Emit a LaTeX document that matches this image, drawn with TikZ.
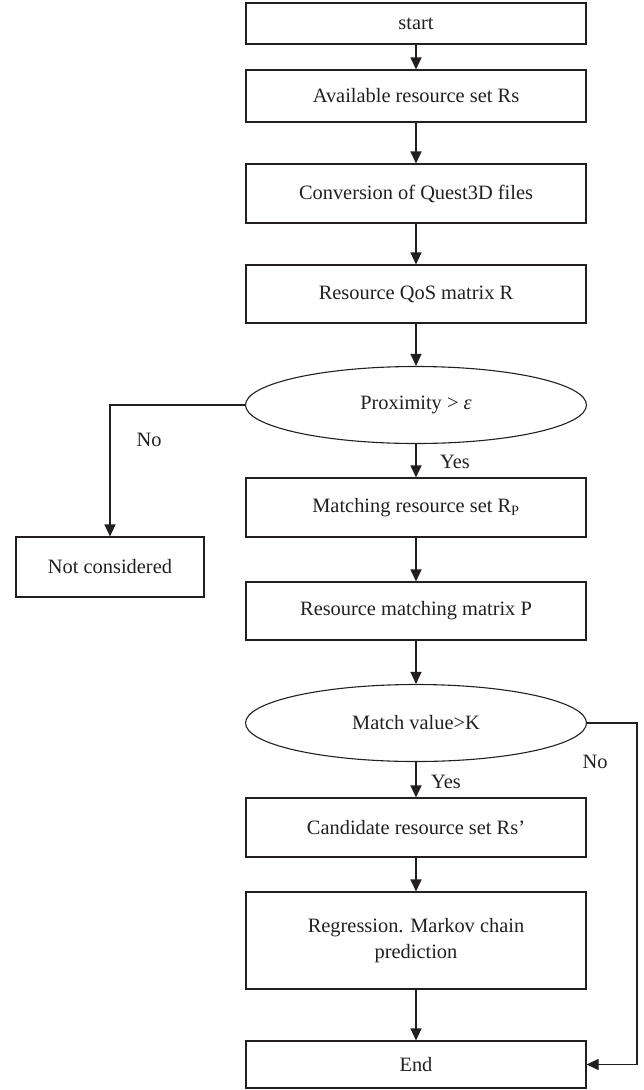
\documentclass[tikz,border=0pt]{standalone}
\usepackage{fontspec}
\setmainfont{Liberation Serif}
\usetikzlibrary{shapes.geometric,arrows.meta}
\definecolor{ink}{HTML}{231F20}
\begin{document}
\begin{tikzpicture}[x=1pt,y=-1pt,
  every node/.style={text=ink,font=\fontsize{20.4}{26}\selectfont},
  box/.style={draw=ink,line width=1.1pt,rectangle,minimum width=340pt,inner sep=0pt,align=center},
  oval/.style={draw=ink,line width=1.1pt,ellipse,minimum width=341pt,minimum height=77pt,inner sep=0pt},
  arr/.style={draw=ink,line width=1.1pt,-{Triangle[length=12pt,width=11pt]}},
  lbl/.style={inner sep=0pt}]
\useasboundingbox (0,0) rectangle (644,1090);
\node[box,minimum height=41pt] (start) at (416,23.5) {start};
\node[box,minimum height=52pt] (avail) at (416,96) {Available resource set Rs};
\node[box,minimum height=59pt] (conv) at (416,193.5) {Conversion of Quest3D files};
\node[box,minimum height=58pt] (qos) at (416,294) {Resource QoS matrix R};
\node[oval] (e1) at (416,405) {Proximity > \textit{ε}};
\node[box,minimum height=59pt] (match) at (416,507.5) {Matching resource set R\textsubscript{P}};
\node[box,minimum width=188pt,minimum height=60pt] (nc) at (110,567) {Not considered};
\node[box,minimum height=58pt] (pmat) at (416,611) {Resource matching matrix P};
\node[oval] (e2) at (416,723) {Match value>K};
\node[box,minimum height=59pt] (cand) at (416,827.5) {Candidate resource set Rs{\char"0027}};
\node[box,minimum height=97pt] (reg) at (416,940.5) {Regression. Markov chain\\prediction};
\node[box,minimum height=47pt] (end) at (416,1064.5) {End};
\coordinate (rc) at (637,723);
\draw[arr] (start) -- (avail);
\draw[arr] (avail) -- (conv);
\draw[arr] (conv) -- (qos);
\draw[arr] (qos) -- (e1);
\draw[arr] (e1) -- (match);
\draw[arr] (e1.west) -| (nc.north);
\draw[arr] (match) -- (pmat);
\draw[arr] (pmat) -- (e2);
\draw[arr] (e2) -- (cand);
\draw[arr] (cand) -- (reg);
\draw[arr] (reg) -- (end);
\draw[arr] (e2.east) -- (rc) |- (end.east);
\node[lbl] (no1) at (149,440) {No};
\node[lbl] (yes1) at (455,462) {Yes};
\node[lbl] (no2) at (595,762) {No};
\node[lbl] (yes2) at (446,782) {Yes};
\end{tikzpicture}
\end{document}
